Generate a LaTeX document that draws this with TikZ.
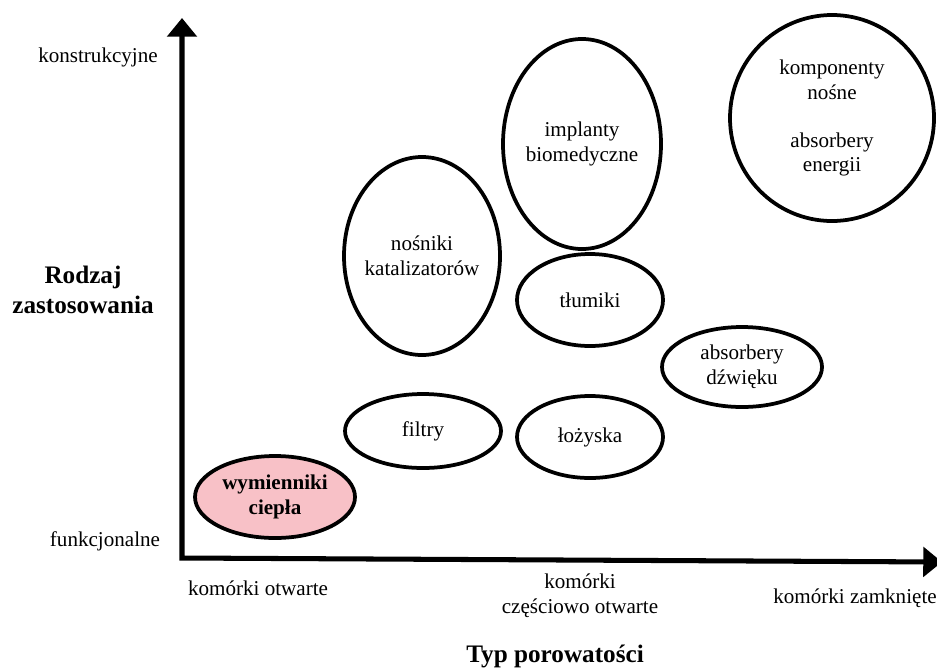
\documentclass[tikz,border=0pt]{standalone}
\usepackage{fontspec}
\setmainfont{Liberation Serif}
\usetikzlibrary{shapes.geometric,arrows.meta}
\definecolor{heatpink}{RGB}{248,193,199}
\tikzset{
  bubble/.style={draw, ellipse, line width=3.2pt, inner sep=-4pt, align=center,
    font=\fontsize{18}{21}\selectfont},
  axis/.style={line width=4.3pt, line join=miter,
    {Triangle[width=25pt,length=16pt]}-{Triangle[width=25pt,length=16pt]}},
  lab/.style={align=center, font=\fontsize{18}{21}\selectfont},
  title/.style={align=center, font=\fontsize{21.5}{25}\selectfont\bfseries}
}
\begin{document}
\begin{tikzpicture}[x=0.03cm,y=-0.03cm]
\useasboundingbox (0,0) rectangle (937,670);
% axes
\coordinate (ytip) at (182,18);
\coordinate (O) at (182,558);
\coordinate (xtip) at (942,562);
\draw[axis] (ytip) -- (O) -- (xtip);

% axis labels
\node[lab] (top) at (98,57) {konstrukcyjne};
\node[lab] (bottom) at (105,541) {funkcjonalne};
\node[title] (ytitle) at (83,290) {Rodzaj\\zastosowania};
\node[lab] (open) at (258,588) {komórki otwarte};
\node[lab] (half) at (580,596) {komórki\\częściowo otwarte};
\node[lab] (closed) at (855,598) {komórki zamknięte};
\node[title] (xtitle) at (555,656) {Typ porowatości};

% applications
\node[bubble, fill=heatpink, font=\fontsize{18}{21}\selectfont\bfseries,
  minimum width=4.8cm, minimum height=2.46cm] (wym) at (275,497) {wymienniki\\ciepła};
\node[bubble, minimum width=4.68cm, minimum height=2.22cm] (filtry) at (423,431) {filtry};
\node[bubble, minimum width=4.68cm, minimum height=5.94cm] (kat) at (422,256) {nośniki\\katalizatorów};
\node[bubble, minimum width=4.74cm, minimum height=6.3cm] (impl) at (582,144) {implanty\\biomedyczne};
\node[bubble, minimum width=4.38cm, minimum height=2.76cm] (tlum) at (590,300) {tłumiki};
\node[bubble, minimum width=4.38cm, minimum height=2.46cm] (lozy) at (590,437) {łożyska};
\node[bubble, minimum width=4.8cm, minimum height=2.4cm] (dzw) at (742,367) {absorbery\\dźwięku};
\node[bubble, minimum width=6.12cm, minimum height=6.18cm] (komp) at (832,118)
  {komponenty\\nośne\\[20pt]absorbery\\energii};

\end{tikzpicture}
\end{document}
